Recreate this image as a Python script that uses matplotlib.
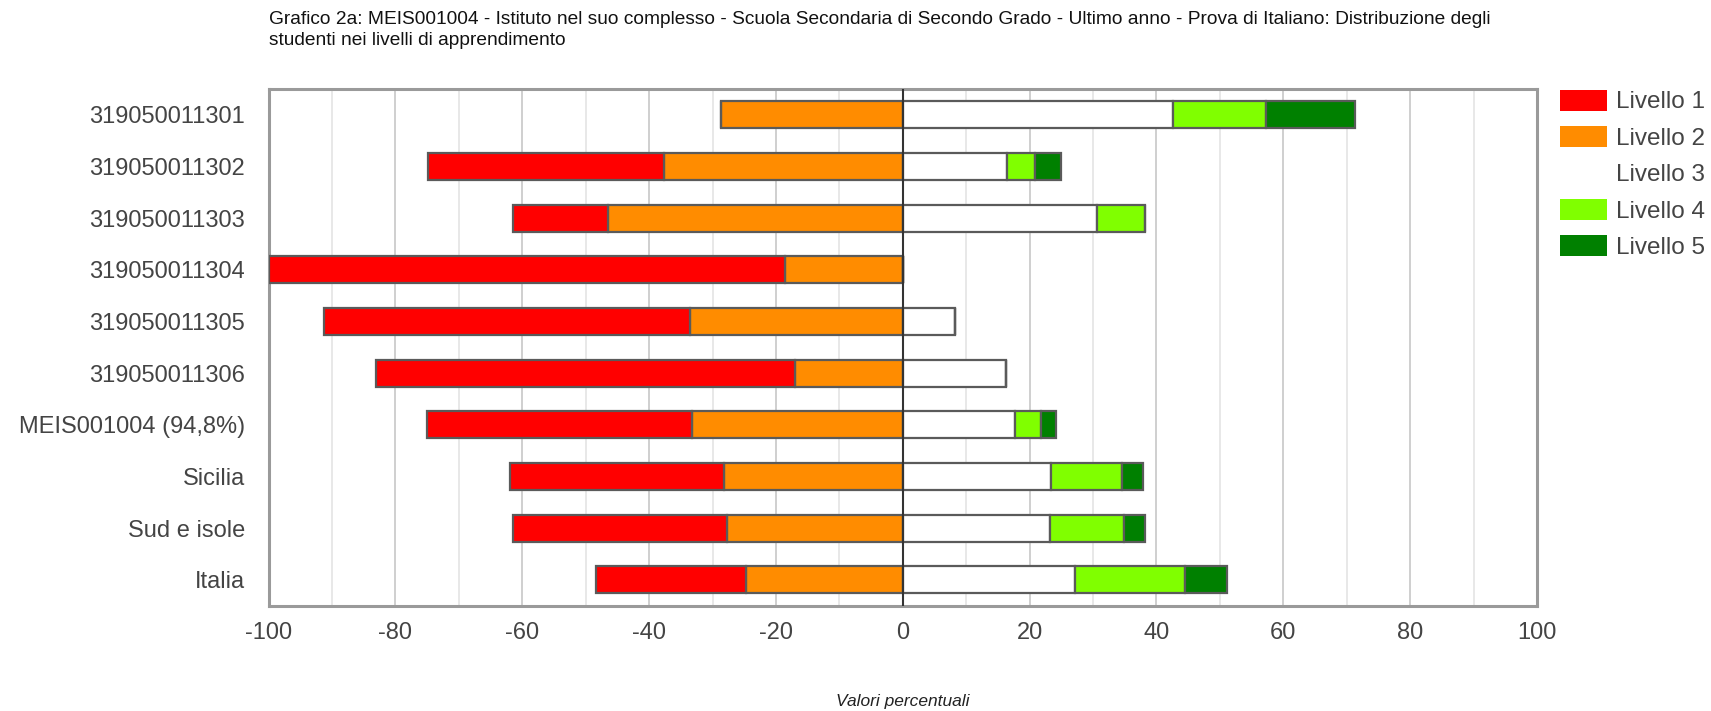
import matplotlib
matplotlib.use("Agg")
import matplotlib.pyplot as plt
import matplotlib.patches as mpatches
import numpy as np

categorie = ['319050011301', '319050011302', '319050011303', '319050011304',
             '319050011305', '319050011306', 'MEIS001004 (94,8%)', 'Sicilia',
             'Sud e isole', 'Italia']
livello1 = [0.0, 37.2, 14.9, 81.5, 57.6, 66.1, 41.9, 33.8, 33.6, 23.6]
livello2 = [28.7, 37.7, 46.5, 18.5, 33.6, 17.0, 33.2, 28.2, 27.8, 24.8]
livello3 = [42.6, 16.4, 30.6, 0.0, 8.2, 16.3, 17.7, 23.3, 23.2, 27.1]
livello4 = [14.6, 4.5, 7.6, 0.0, 0.0, 0.0, 4.1, 11.3, 11.6, 17.4]
livello5 = [14.1, 4.0, 0.0, 0.0, 0.0, 0.0, 2.4, 3.2, 3.4, 6.6]

etichette = ['Livello 1', 'Livello 2', 'Livello 3', 'Livello 4', 'Livello 5']
colori = ['#ff0000', '#ff8c00', '#ffffff', '#80ff00', '#008000']

titolo = ("Grafico 2a: MEIS001004 - Istituto nel suo complesso - Scuola Secondaria di Secondo Grado - "
          "Ultimo anno - Prova di Italiano: Distribuzione degli\nstudenti nei livelli di apprendimento")

plt.rcParams['font.family'] = ['Liberation Sans', 'DejaVu Sans']
plt.rcParams['axes.unicode_minus'] = False

fig = plt.figure(figsize=(17.11, 7.11), dpi=100)
ax = fig.add_axes([0.157, 0.1483, 0.7413, 0.7265])

y = np.arange(len(categorie))
l1 = np.array(livello1)
l2 = np.array(livello2)
l3 = np.array(livello3)
l4 = np.array(livello4)
l5 = np.array(livello5)

bordo = dict(edgecolor='#5a5a5a', linewidth=1.6, height=0.52, zorder=3)
# lato negativo: livelli 1 e 2
ax.barh(y, -l2, left=0, color=colori[1], **bordo)
ax.barh(y, -l1, left=-l2, color=colori[0], **bordo)
# lato positivo: livelli 3, 4, 5
ax.barh(y, l3, left=0, color=colori[2], **bordo)
ax.barh(y, l4, left=l3, color=colori[3], **bordo)
ax.barh(y, l5, left=l3 + l4, color=colori[4], **bordo)

ax.set_xlim(-100, 100)
ax.set_ylim(len(categorie) - 0.5, -0.5)
ax.set_yticks(y)
ax.set_yticklabels(categorie)
ax.set_xticks(np.arange(-100, 101, 20))
ax.set_xticks(np.arange(-90, 100, 20), minor=True)
ax.tick_params(axis='both', length=0, labelsize=17, labelcolor='#444444')
ax.tick_params(axis='x', pad=12)
ax.tick_params(axis='y', pad=17)
ax.tick_params(axis='x', which='minor', length=0)

ax.grid(axis='x', which='major', color='#cccccc', linewidth=1.3, zorder=0)
ax.grid(axis='x', which='minor', color='#e6e6e6', linewidth=1.3, zorder=0)
ax.axvline(0, color='#333333', linewidth=1.5, zorder=4)

for s in ax.spines.values():
    s.set_color('#9a9a9a')
    s.set_linewidth(2.2)

fig.text(0.157, 0.985, titolo, ha='left', va='top', fontsize=13.8,
         color='#111111', linespacing=1.3)
fig.text(0.5277, 0.013, 'Valori percentuali', ha='center', va='center',
         fontsize=12.5, style='italic', color='#222222')

handles = [mpatches.Patch(facecolor=c, edgecolor='none') for c in colori]
fig.legend(handles, etichette, loc='upper left', bbox_to_anchor=(0.912, 0.874),
           frameon=False, fontsize=17.5, handlelength=1.9, handleheight=0.95,
           handletextpad=0.4, labelspacing=0.52, borderpad=0, borderaxespad=0,
           labelcolor='#444444')

fig.savefig('out.png', dpi=100)
